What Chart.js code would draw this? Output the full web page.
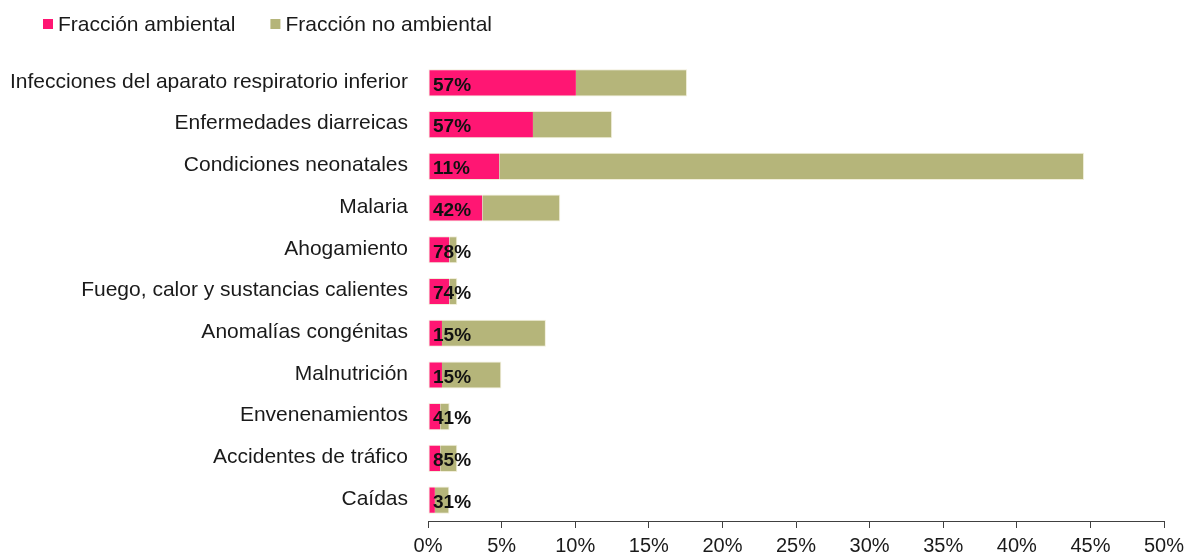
<!DOCTYPE html>
<html>
<head>
<meta charset="utf-8">
<script src="https://cdn.jsdelivr.net/npm/chart.js@4/dist/chart.umd.min.js"></script>
<style>
  html, body { margin: 0; padding: 0; background: #fff; overflow: hidden; }
  #wrap { width: 1195px; height: 580px; position: relative; }
</style>
</head>
<body>
<div id="wrap"><canvas id="c"></canvas></div>
<script>
const categories = [
  "Infecciones del aparato respiratorio inferior",
  "Enfermedades diarreicas",
  "Condiciones neonatales",
  "Malaria",
  "Ahogamiento",
  "Fuego, calor y sustancias calientes",
  "Anomalías congénitas",
  "Malnutrición",
  "Envenenamientos",
  "Accidentes de tráfico",
  "Caídas"
];
const ambiental   = [10.05, 7.13, 4.84, 3.69, 1.45, 1.45, 0.95, 0.95, 0.83, 0.83, 0.47];
const noAmbiental = [7.55, 5.38, 39.73, 5.29, 0.54, 0.54, 7.06, 4.03, 0.64, 1.16, 0.98];
const pctLabels   = ["57%", "57%", "11%", "42%", "78%", "74%", "15%", "15%", "41%", "85%", "31%"];
const seriesNames = ["Fracción ambiental", "Fracción no ambiental"];
const xTicks = [0, 5, 10, 15, 20, 25, 30, 35, 40, 45, 50];

const PINK = "#FF1673";
const OLIVE = "#B5B57A";
const FONT = "'Liberation Sans', Arial, sans-serif";

const legendPlugin = {
  id: "topLegend",
  afterDraw(chart) {
    const ctx = chart.ctx;
    ctx.save();
    ctx.font = "21px " + FONT;
    ctx.textBaseline = "middle";
    ctx.textAlign = "left";
    let x = 43;
    chart.data.datasets.forEach((ds) => {
      ctx.fillStyle = ds.backgroundColor;
      ctx.fillRect(x, 19, 10, 10);
      ctx.fillStyle = "#1a1a1a";
      ctx.fillText(ds.label, x + 15, 25);
      x += 15 + ctx.measureText(ds.label).width + 35;
    });
    ctx.restore();
  }
};

const pctPlugin = {
  id: "pctLabels",
  afterDatasetsDraw(chart) {
    const ctx = chart.ctx;
    const meta = chart.getDatasetMeta(0);
    const x0 = chart.scales.x.getPixelForValue(0);
    ctx.save();
    ctx.font = "bold 19px " + FONT;
    ctx.textBaseline = "middle";
    ctx.textAlign = "left";
    ctx.fillStyle = "#111";
    meta.data.forEach((el, i) => {
      ctx.fillText(pctLabels[i], x0 + 5, el.y + 2.5);
    });
    ctx.restore();
  }
};

new Chart(document.getElementById("c"), {
  type: "bar",
  data: {
    labels: categories,
    datasets: [
      {
        label: seriesNames[0],
        data: ambiental,
        backgroundColor: PINK,
        borderColor: "rgba(240,236,214,0.9)",
        borderWidth: 1,
        borderSkipped: "end"
      },
      {
        label: seriesNames[1],
        data: noAmbiental,
        backgroundColor: OLIVE,
        borderColor: "rgba(240,236,214,0.9)",
        borderWidth: 1,
        borderSkipped: "start"
      }
    ]
  },
  options: {
    indexAxis: "y",
    responsive: true,
    maintainAspectRatio: false,
    animation: false,
    layout: { padding: { top: 62, right: 31, left: 0, bottom: 0 } },
    datasets: { bar: { categoryPercentage: 1, barPercentage: 0.65 } },
    plugins: {
      legend: { display: false },
      tooltip: { enabled: false }
    },
    scales: {
      x: {
        stacked: true,
        min: 0,
        max: 50,
        afterBuildTicks(scale) { scale.ticks = xTicks.map(v => ({ value: v })); },
        afterFit(scale) { scale.height = 59; },
        grid: {
          display: true,
          drawOnChartArea: false,
          drawTicks: true,
          tickLength: 7,
          tickColor: "#404040",
          tickWidth: 1
        },
        border: { display: true, color: "#404040", width: 1 },
        ticks: {
          color: "#1a1a1a",
          font: { family: FONT, size: 20 },
          padding: 6,
          maxRotation: 0,
          callback: (v) => v + "%"
        }
      },
      y: {
        stacked: true,
        afterFit(scale) { scale.width = 428; },
        grid: { display: false, drawTicks: false },
        border: { display: false },
        ticks: {
          color: "#1a1a1a",
          font: { family: FONT, size: 21 },
          padding: 20,
          labelOffset: -1,
          autoSkip: false
        }
      }
    }
  },
  plugins: [legendPlugin, pctPlugin]
});
</script>
</body>
</html>
